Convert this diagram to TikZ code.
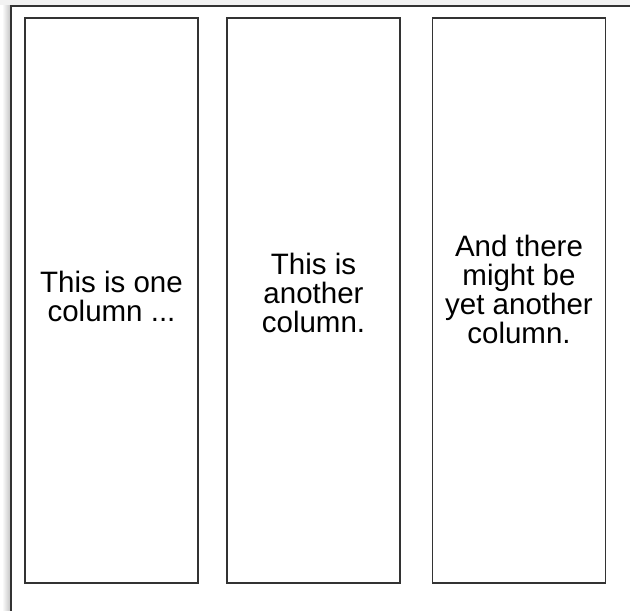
\documentclass[tikz,border=0pt]{standalone}
\usepackage{fontspec}
\setmainfont{Liberation Sans}
\definecolor{framegray}{HTML}{333333}
\tikzset{
  colbox/.style={draw=framegray, line width=1.6pt, minimum width=173pt, minimum height=565pt},
  coltext/.style={align=center, font=\fontsize{29.5}{29}\selectfont, inner sep=0pt},
}
\begin{document}
\begin{tikzpicture}[x=1pt, y=-1pt]
\useasboundingbox (0,0) rectangle (630,611);
% page shadow and frame
\fill[black!5] (0,0) rectangle (630,5);
\shade[left color=white, right color=black!22] (2,5) rectangle (10,611);
\draw[framegray, line width=2pt] (11,611) -- (11,6) -- (630,6);
% the three columns
\node[colbox] (colone) at (111.5,300.5) {};
\node[colbox] (coltwo) at (313.5,300.5) {};
\node[colbox] (colthree) at (519,300.5) {};
\node[coltext, yshift=4pt] (textone) at (colone) {This is one\\column ...};
\node[coltext, yshift=8pt] (texttwo) at (coltwo) {This is\\another\\column.};
\node[coltext, yshift=11pt] (textthree) at (colthree) {And there\\might be\\yet another\\column.};
\end{tikzpicture}
\end{document}
